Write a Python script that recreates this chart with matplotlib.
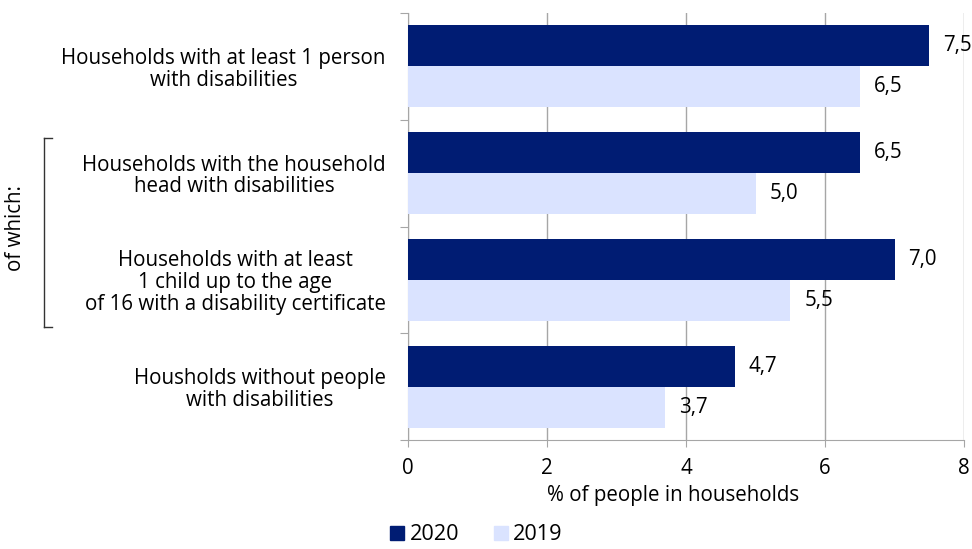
import matplotlib.pyplot as plt
import numpy as np
from matplotlib.lines import Line2D
from matplotlib.patches import Patch

plt.rcParams['font.family'] = ['Open Sans', 'DejaVu Sans']

categories = [
    "Households with at least 1 person\nwith disabilities",
    "Households with the household\nhead with disabilities",
    "Households with at least\n1 child up to the age\nof 16 with a disability certificate",
    "Housholds without people\nwith disabilities",
]
values_2020 = [7.5, 6.5, 7.0, 4.7]
values_2019 = [6.5, 5.0, 5.5, 3.7]
series_names = ["2020", "2019"]
x_ticks = [0, 2, 4, 6, 8]

dark = "#001c73"
light = "#dae3ff"
grey = "#a6a6a6"
fs = 14.8

fig = plt.figure(figsize=(9.72, 5.49), dpi=100)
ax = fig.add_axes([0.4198, 0.1985, 0.572, 0.7778])

n = len(categories)
pos = np.arange(n)
h = 0.385
ax.barh(pos - h / 2, values_2020, height=h, color=dark, zorder=3)
ax.barh(pos + h / 2, values_2019, height=h, color=light, zorder=3)

for p, v in zip(pos - h / 2, values_2020):
    ax.text(v + 0.2, p, f"{v:.1f}".replace(".", ","), va="center", ha="left", fontsize=fs, zorder=4)
for p, v in zip(pos + h / 2, values_2019):
    ax.text(v + 0.2, p, f"{v:.1f}".replace(".", ","), va="center", ha="left", fontsize=fs, zorder=4)

ax.set_ylim(n - 0.5, -0.5)
ax.set_xlim(0, 8)
ax.set_xticks(x_ticks)
ax.set_xticklabels([str(t) for t in x_ticks], fontsize=fs)
ax.tick_params(axis="x", length=5, color=grey, pad=8)
ax.set_yticks(np.arange(n + 1) - 0.5)
ax.set_yticklabels([])
ax.tick_params(axis="y", length=6, color=grey)
ax.set_yticks(pos, minor=True)
ax.set_yticklabels(categories, minor=True, fontsize=fs, multialignment="center", linespacing=1.05)
ax.tick_params(axis="y", which="minor", length=0, pad=16)

ax.grid(axis="x", color=grey, lw=1, zorder=0)
for s in ["top", "right"]:
    ax.spines[s].set_visible(False)
for s in ["left", "bottom"]:
    ax.spines[s].set_color(grey)

ax.set_xlabel("% of people in households", fontsize=fs)
ax.xaxis.set_label_coords(0.477, -0.105)

# bracket for "of which:"
bx = 0.045
fig.add_artist(Line2D([bx, bx], [1 - 138 / 549, 1 - 327 / 549], color="#333333", lw=1))
fig.add_artist(Line2D([bx, bx + 0.009], [1 - 138 / 549, 1 - 138 / 549], color="#333333", lw=1))
fig.add_artist(Line2D([bx, bx + 0.009], [1 - 327 / 549, 1 - 327 / 549], color="#333333", lw=1))
fig.text(0.016, 1 - 228 / 549, "of which:", rotation=90, va="center", ha="center", fontsize=fs)

handles = [Patch(color=dark), Patch(color=light)]
fig.legend(handles, series_names, loc="center", bbox_to_anchor=(0.49, 1 - 535 / 549), ncol=2, frameon=False,
           fontsize=fs + 0.8, handlelength=0.65, handleheight=0.65, handletextpad=0.25, columnspacing=1.6,
           borderpad=0)

fig.savefig("out.png", dpi=100)
